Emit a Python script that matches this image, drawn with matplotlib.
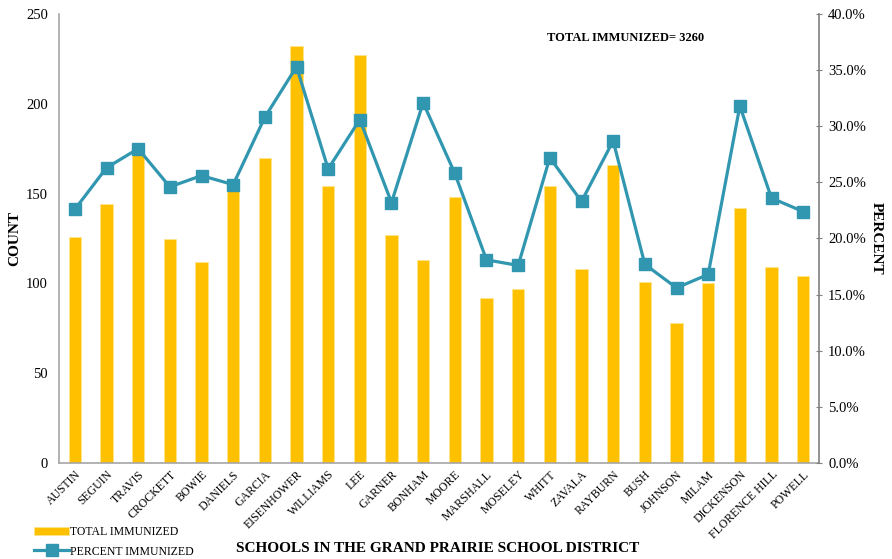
import matplotlib
matplotlib.use("Agg")
import matplotlib.pyplot as plt
from matplotlib.ticker import FuncFormatter

schools = ["AUSTIN", "SEGUIN", "TRAVIS", "CROCKETT", "BOWIE", "DANIELS", "GARCIA",
           "EISENHOWER", "WILLIAMS", "LEE", "GARNER", "BONHAM", "MOORE", "MARSHALL",
           "MOSELEY", "WHITT", "ZAVALA", "RAYBURN", "BUSH", "JOHNSON", "MILAM",
           "DICKENSON", "FLORENCE HILL", "POWELL"]
total_immunized = [126, 144, 176, 125, 112, 155, 170, 232, 154, 227, 127, 113, 148,
                   92, 97, 154, 108, 166, 101, 78, 100, 142, 109, 104]
percent_immunized = [22.6, 26.3, 28.0, 24.6, 25.6, 24.8, 30.8, 35.3, 26.2, 30.6, 23.2,
                     32.1, 25.8, 18.1, 17.6, 27.2, 23.3, 28.7, 17.7, 15.6, 16.8, 31.8,
                     23.6, 22.4]
count_ticks = [0, 50, 100, 150, 200, 250]
pct_ticks = [0, 5, 10, 15, 20, 25, 30, 35, 40]

plt.rcParams['font.family'] = ['Liberation Serif', 'DejaVu Serif']

fig = plt.figure(figsize=(8.92, 5.59), dpi=100)
ax = fig.add_axes([59/892, 1-463/559, (819-59)/892, (463-14)/559])
x = list(range(len(schools)))
bars = ax.bar(x, total_immunized, width=0.39, color='#FFC000', edgecolor='#FFE48A',
              linewidth=0.6, label='TOTAL IMMUNIZED', zorder=2)
ax.set_xlim(-0.5, len(schools) - 0.5)
ax.set_ylim(0, 250)
ax.set_yticks(count_ticks)
ax.tick_params(axis='y', length=0, labelsize=10.5, pad=8)
ax.set_xticks(x)
ax.set_xticklabels(schools, rotation=45, ha='right', rotation_mode='anchor', fontsize=8.5)
ax.tick_params(axis='x', length=0, pad=4)
for s in ['top', 'right']:
    ax.spines[s].set_visible(False)
for s in ['left', 'bottom']:
    ax.spines[s].set_color('#A6A6A6')
    ax.spines[s].set_linewidth(1.2)
ax.set_ylabel('COUNT', fontsize=11, fontweight='bold', labelpad=3)

ax2 = ax.twinx()
line, = ax2.plot(x, percent_immunized, color='#3197B0', linewidth=2.3, marker='s',
                 markersize=9, markeredgecolor='#3197B0', label='PERCENT IMMUNIZED', zorder=3)
ax2.set_ylim(0, 40)
ax2.set_yticks(pct_ticks)
ax2.yaxis.set_major_formatter(FuncFormatter(lambda v, p: f"{v:.1f}%"))
ax2.tick_params(axis='y', direction='inout', length=5, color='#808080', labelsize=10.5, pad=4)
for s in ['top', 'left', 'bottom']:
    ax2.spines[s].set_visible(False)
ax2.spines['right'].set_color('#808080')
ax2.spines['right'].set_linewidth(1.2)
ax2.set_ylabel('PERCENT', fontsize=11, fontweight='bold', rotation=270, labelpad=12)

ax2.text(0.745, 0.947, 'TOTAL IMMUNIZED= 3260', transform=ax.transAxes, ha='center',
         va='center', fontsize=9, fontweight='bold')

fig.text(438/892, 1-548/559, 'SCHOOLS IN THE GRAND PRAIRIE SCHOOL DISTRICT',
         ha='center', va='center', fontsize=11, fontweight='bold')

fig.legend([bars, line], ['TOTAL IMMUNIZED', 'PERCENT IMMUNIZED'],
           loc='lower left', bbox_to_anchor=(28/892, -0.008), frameon=False, fontsize=8.5,
           handlelength=3, handletextpad=0.1, labelspacing=0.6, borderaxespad=0.1)

fig.savefig('out.png', dpi=100)
